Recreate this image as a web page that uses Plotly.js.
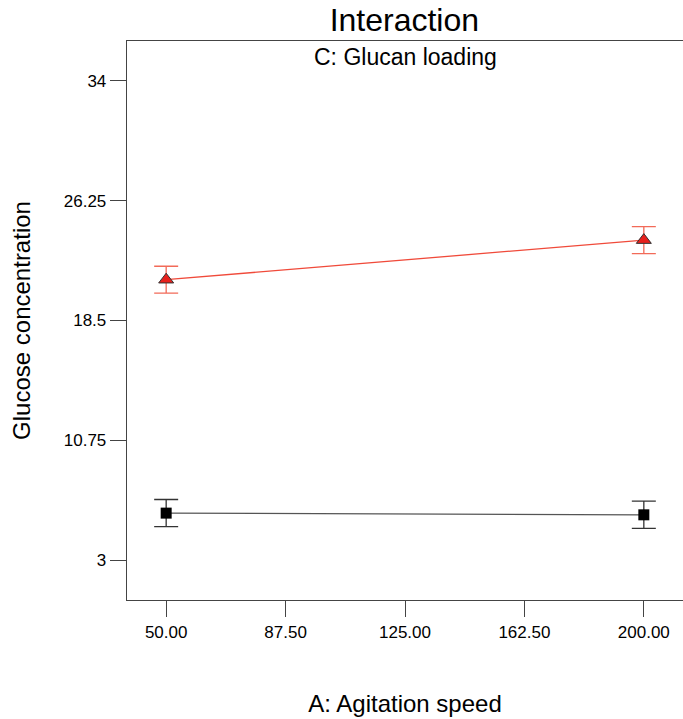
<!DOCTYPE html>
<html>
<head>
<meta charset="utf-8">
<script src="https://cdn.plot.ly/plotly-3.0.1.min.js"></script>
<style>html,body{margin:0;padding:0;background:#fff;}#chart{width:683px;height:719px;}</style>
</head>
<body>
<div id="chart"></div>
<script>
// Data
const agitationSpeed = [50, 200];
const highLoading = [21.14, 23.70];     // red triangles
const highLoadingErr = [0.87, 0.87];
const lowLoading = [6.04, 5.93];        // black squares
const lowLoadingErr = [0.88, 0.88];
const xTicks = [50, 87.5, 125, 162.5, 200];
const xTickLabels = ["50.00", "87.50", "125.00", "162.50", "200.00"];
const yTicks = [3, 10.75, 18.5, 26.25, 34];
const yTickLabels = ["3", "10.75", "18.5", "26.25", "34"];

const font = "Liberation Sans, Arial, sans-serif";

const traces = [
  {
    x: agitationSpeed, y: lowLoading, type: 'scatter', mode: 'lines+markers',
    line: {color: '#555555', width: 1.3},
    marker: {symbol: 'square', size: 11, color: '#000000', line: {color: '#000000', width: 0}},
    error_y: {type: 'data', array: lowLoadingErr, visible: true, color: '#333333', thickness: 1.3, width: 12},
    showlegend: false, hoverinfo: 'x+y'
  },
  {
    x: agitationSpeed, y: highLoading, type: 'scatter', mode: 'lines+markers',
    line: {color: '#f04a3a', width: 1.3},
    marker: {symbol: 'triangle-up', size: 13, color: '#e8201c', line: {color: '#333333', width: 1}},
    error_y: {type: 'data', array: highLoadingErr, visible: true, color: '#f26a58', thickness: 1.3, width: 12},
    showlegend: false, hoverinfo: 'x+y'
  }
];

const layout = {
  width: 683, height: 719,
  margin: {l: 127, r: 0, t: 41, b: 119},
  paper_bgcolor: '#ffffff', plot_bgcolor: '#ffffff',
  font: {family: font, color: '#000000'},
  title: {text: 'Interaction', font: {family: font, size: 32, color: '#000'},
          x: 0.592, xanchor: 'center', y: 1 - 20/719, yanchor: 'middle', xref: 'container', yref: 'container'},
  xaxis: {
    range: [37.7, 212.3], tickmode: 'array', tickvals: xTicks, ticktext: xTickLabels,
    showgrid: false, zeroline: false, showline: true, mirror: true, linecolor: '#444444', linewidth: 1.3,
    ticks: 'outside', ticklen: 16, tickwidth: 1, tickcolor: '#444444',
    tickfont: {family: font, size: 17, color: '#000'},
    title: {text: 'A: Agitation speed', font: {family: font, size: 24, color: '#000'}, standoff: 54},
    automargin: false, fixedrange: true
  },
  yaxis: {
    range: [0.42, 36.58], tickmode: 'array', tickvals: yTicks, ticktext: yTickLabels,
    showgrid: false, zeroline: false, showline: true, mirror: false, linecolor: '#444444', linewidth: 1.3,
    ticks: 'outside', ticklen: 16, tickwidth: 1, tickcolor: '#444444',
    tickfont: {family: font, size: 17, color: '#000'},
    title: {text: 'Glucose concentration', font: {family: font, size: 24, color: '#000'}, standoff: 26},
    automargin: false, fixedrange: true
  },
  annotations: [
    {text: 'C: Glucan loading', xref: 'paper', yref: 'paper', x: 0.5, y: (600 - 57) / 559.3,
     xanchor: 'center', yanchor: 'middle', showarrow: false, font: {family: font, size: 23, color: '#000'}}
  ]
};

Plotly.newPlot('chart', traces, layout, {displayModeBar: false, staticPlot: true});
</script>
</body>
</html>
